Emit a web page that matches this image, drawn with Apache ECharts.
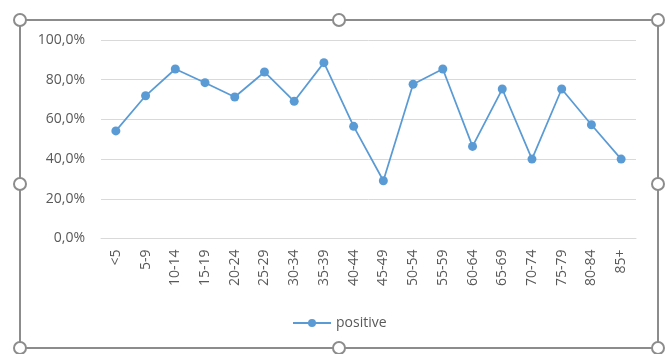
<!DOCTYPE html>
<html>
<head>
<meta charset="utf-8">
<script src="https://cdn.jsdelivr.net/npm/echarts@6/dist/echarts.min.js"></script>
<style>
  html, body { margin: 0; padding: 0; background: #ffffff; }
  #chart { width: 665px; height: 354px; }
</style>
</head>
<body>
<div id="chart"></div>
<script>
// Age groups on the horizontal axis
const ageGroups = ['<5', '5-9', '10-14', '15-19', '20-24', '25-29', '30-34', '35-39', '40-44',
  '45-49', '50-54', '55-59', '60-64', '65-69', '70-74', '75-79', '80-84', '85+'];
// Share of positive results per age group (fraction of 1)
const positiveShare = [0.542, 0.719, 0.854, 0.785, 0.713, 0.839, 0.691, 0.886, 0.565,
  0.291, 0.777, 0.854, 0.464, 0.753, 0.400, 0.753, 0.573, 0.400];
const seriesName = 'positive';

const textColor = '#595959';
const fontFamily = '"Open Sans", "Noto Sans", sans-serif';
const frameColor = '#8c8c8c';

// Selection frame with resize handles around the chart area
const handlePoints = [
  [20, 20], [339, 20], [658, 20],
  [20, 184], [658, 184],
  [20, 348], [339, 348], [658, 348]
];
const frameElements = [{
  type: 'rect',
  shape: { x: 20, y: 20, width: 638, height: 328 },
  style: { fill: 'none', stroke: frameColor, lineWidth: 2 },
  z: 10
}].concat(handlePoints.map(p => ({
  type: 'circle',
  shape: { cx: p[0], cy: p[1], r: 6 },
  style: { fill: '#ffffff', stroke: frameColor, lineWidth: 2 },
  z: 11
})));

const chart = echarts.init(document.getElementById('chart'), null, { renderer: 'canvas' });
chart.setOption({
  animation: false,
  backgroundColor: '#ffffff',
  textStyle: { fontFamily: fontFamily },
  grid: { left: 101, right: 29, top: 40, bottom: 115.5, containLabel: false },
  xAxis: {
    type: 'category',
    data: ageGroups,
    boundaryGap: true,
    axisLine: { show: true, lineStyle: { color: '#d9d9d9', width: 1 } },
    axisTick: { show: false },
    axisLabel: {
      rotate: 90,
      margin: 11,
      interval: 0,
      color: textColor,
      fontSize: 14,
      fontFamily: fontFamily
    }
  },
  yAxis: {
    type: 'value',
    min: 0,
    max: 1,
    interval: 0.2,
    axisLine: { show: false },
    axisTick: { show: false },
    splitLine: { lineStyle: { color: '#d9d9d9', width: 1 } },
    axisLabel: {
      margin: 16,
      color: textColor,
      fontSize: 14,
      fontFamily: fontFamily,
      formatter: v => (v * 100).toFixed(1).replace('.', ',') + '%'
    }
  },
  legend: {
    data: [seriesName],
    left: 292,
    top: 316,
    padding: 0,
    itemWidth: 38,
    itemHeight: 10,
    itemGap: 10,
    textStyle: { color: textColor, fontSize: 14, fontFamily: fontFamily }
  },
  series: [{
    name: seriesName,
    type: 'line',
    data: positiveShare,
    symbol: 'circle',
    symbolSize: 9,
    lineStyle: { color: '#5b9bd5', width: 1.75 },
    itemStyle: { color: '#5b9bd5' }
  }],
  graphic: frameElements
});
</script>
</body>
</html>
